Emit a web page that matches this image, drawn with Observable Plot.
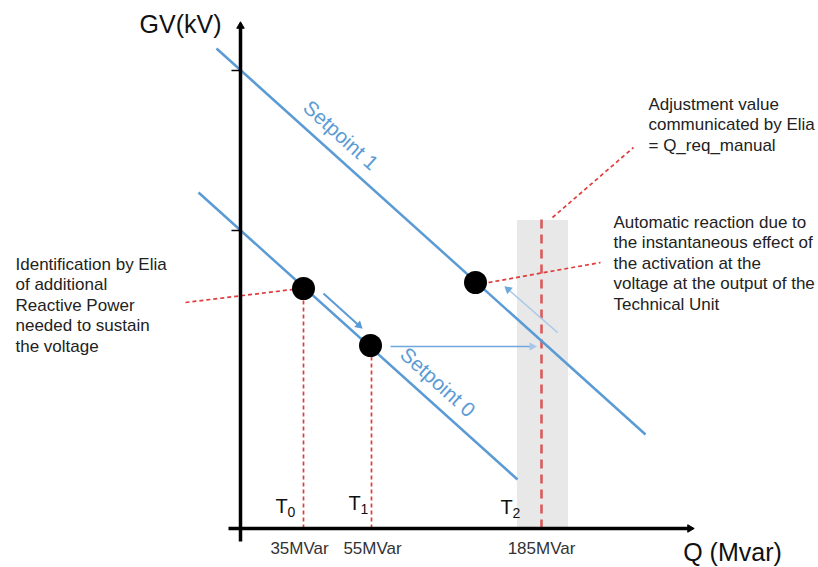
<!DOCTYPE html>
<html><head><meta charset="utf-8">
<script src="https://cdn.jsdelivr.net/npm/d3@7"></script>
<script src="https://cdn.jsdelivr.net/npm/@observablehq/plot@0.6"></script>
<style>body{margin:0;background:#fff} #chart svg{display:block}</style>
</head><body><div id="chart"></div>
<script>
// Schematic diagram units: q = position along the Q axis, v = position along the GV axis
// (origin at the crossing of the two axes).

// Setpoint characteristic lines
const setpointNames = ["Setpoint 0", "Setpoint 1"];
const setpointQStart = [-42, -24];
const setpointVStart = [336, 480];
const setpointQEnd = [277, 405];
const setpointVEnd = [49, 94];
const setpointLabelQ = [197, 100];
const setpointLabelV = [146, 393];

// Operating points (T0, T1, T2)
const pointNames = ["T0", "T1", "T2"];
const pointQ = [63, 130, 235];
const pointV = [240, 183, 246];

// Q axis tick labels
const qTickLabels = ["35MVar", "55MVar", "185MVar"];
const qTickQ = [59, 132, 301];

// Time labels
const timeSubs = ["0", "1", "2"];
const timeQ = [41, 114, 266];
const timeV = [22, 25, 21];

// GV axis tick marks
const vTicks = [458, 298];

// Requested Q band (Q_req_manual)
const bandQ = [277, 328];
const bandV = [0, 308];
const reqQ = 301;
const reqVTop = 315;

// Red dashed leader / drop lines
const leaderQ1 = [-55, 63, 131, 248, 312];
const leaderV1 = [226, 0, 0, 246, 311];
const leaderQ2 = [52, 63, 131, 360, 393];
const leaderV2 = [239, 230, 173, 266, 381];

// Blue arrows
const arrowQ1 = [83, 150, 317];
const arrowV1 = [235, 182, 196];
const arrowQ2 = [124, 299, 262];
const arrowV2 = [198, 182, 244];
const arrowShaft = ["#5b9bd5", "#6fa8dc", "#a9c9ea"];
const arrowHead = ["#5b9bd5", "#a9c7e8", "#6fa8dc"];
const arrowWidth = [2, 1.3, 1.6];

// Axes
const axisQ = [[-12, 0], [455, 0]];
const axisV = [[0, -13], [0, 508]];

// Annotations
const annoText = [
  "Identification by Elia\nof additional\nReactive Power\nneeded to sustain\nthe voltage",
  "Adjustment value\ncommunicated by Elia\n= Q_req_manual",
  "Automatic reaction due to\nthe instantaneous effect of\nthe activation at the\nvoltage at the output of the\nTechnical Unit"
];
const annoQ = [-225, 408, 373];
const annoV = [273, 433, 315];

const font = "Liberation Sans, Arial, sans-serif";
const idx = n => d3.range(n);

// arrow heads (triangles) computed from arrow geometry
function heads(q1, v1, q2, v2, r) {
  return q1.map((_, i) => {
    const dq = q2[i] - q1[i], dv = v2[i] - v1[i];
    const len = Math.hypot(dq, dv);
    const back = 1.555 * r[i];
    return {q: q2[i] - dq / len * back, v: v2[i] - dv / len * back,
            rot: Math.atan2(dq, dv) * 180 / Math.PI, r: r[i], i};
  });
}
const blueHeads = heads(arrowQ1, arrowV1, arrowQ2, arrowV2, [4.8, 4.8, 4.8]);
const axisHeads = heads([axisQ[0][0], axisV[0][0]], [axisQ[0][1], axisV[0][1]],
                        [axisQ[1][0], axisV[1][0]], [axisQ[1][1], axisV[1][1]], [3.6, 3.6]);
// shorten shafts so they end inside the head
function shaft(q1, v1, q2, v2, cut) {
  return q1.map((_, i) => {
    const dq = q2[i] - q1[i], dv = v2[i] - v1[i];
    const len = Math.hypot(dq, dv);
    return {q1: q1[i], v1: v1[i], q2: q2[i] - dq / len * cut, v2: v2[i] - dv / len * cut, i};
  });
}
const blueShafts = shaft(arrowQ1, arrowV1, arrowQ2, arrowV2, 6);
const axisShafts = shaft([axisQ[0][0], axisV[0][0]], [axisQ[0][1], axisV[0][1]],
                         [axisQ[1][0], axisV[1][0]], [axisQ[1][1], axisV[1][1]], 6);

const chart = Plot.plot({
  width: 818, height: 567,
  margin: 0,
  x: {domain: [-240, 578], range: [0, 818], axis: null},
  y: {domain: [-39, 528], range: [567, 0], axis: null},
  style: {background: "#fff", fontFamily: font},
  marks: [
    Plot.rect([0], {x1: bandQ[0], x2: bandQ[1], y1: bandV[0], y2: bandV[1], fill: "#e8e8e8"}),
    Plot.link([0], {x1: reqQ, x2: reqQ, y1: 0, y2: reqVTop, stroke: "#d95b5b", strokeWidth: 2.6, strokeDasharray: "9,6"}),
    Plot.link(idx(leaderQ1.length), {x1: i => leaderQ1[i], y1: i => leaderV1[i], x2: i => leaderQ2[i], y2: i => leaderV2[i],
      stroke: "#e03c3c", strokeWidth: 1.7, strokeDasharray: "4,3"}),
    Plot.link(idx(setpointNames.length), {x1: i => setpointQStart[i], y1: i => setpointVStart[i], x2: i => setpointQEnd[i], y2: i => setpointVEnd[i],
      stroke: "#5b9bd5", strokeWidth: 2.5}),
    Plot.text(idx(setpointNames.length), {x: i => setpointLabelQ[i], y: i => setpointLabelV[i], text: i => setpointNames[i],
      rotate: 42, fill: "#5b9bd5", fontSize: 20.5, textAnchor: "middle", lineAnchor: "middle"}),
    // axes
    Plot.link(axisShafts, {x1: "q1", y1: "v1", x2: "q2", y2: "v2", stroke: "#000", strokeWidth: 3.5}),
    Plot.dot(axisHeads, {x: "q", y: "v", r: "r", rotate: "rot", symbol: "triangle", fill: "#000", stroke: "#000", strokeWidth: 1}),
    Plot.link(vTicks, {x1: -9, x2: 0, y1: d => d, y2: d => d, stroke: "#000", strokeWidth: 1.5}),
    // blue arrows
    Plot.link(blueShafts, {x1: "q1", y1: "v1", x2: "q2", y2: "v2", stroke: d => arrowShaft[d.i], strokeWidth: d => arrowWidth[d.i]}),
    Plot.dot(blueHeads, {x: "q", y: "v", r: "r", rotate: "rot", symbol: "triangle", fill: d => arrowHead[d.i], stroke: "none"}),
    // operating points
    Plot.dot(idx(pointNames.length), {x: i => pointQ[i], y: i => pointV[i], r: 11.5, fill: "#000"}),
    // axis titles
    Plot.text(["GV(kV)"], {x: -60, y: 504, text: d => d, fontSize: 25, fill: "#111", textAnchor: "middle", lineAnchor: "middle"}),
    Plot.text(["Q (Mvar)"], {x: 492, y: -24, text: d => d, fontSize: 25, fill: "#111", textAnchor: "middle", lineAnchor: "middle"}),
    // tick labels
    Plot.text(idx(qTickLabels.length), {x: i => qTickQ[i], y: -20, text: i => qTickLabels[i], fontSize: 17, fill: "#333", textAnchor: "middle", lineAnchor: "middle"}),
    // time labels
    Plot.text(idx(timeSubs.length), {x: i => timeQ[i], y: i => timeV[i], text: () => "T", fontSize: 20, fill: "#111", textAnchor: "middle", lineAnchor: "middle"}),
    Plot.text(idx(timeSubs.length), {x: i => timeQ[i] + 10, y: i => timeV[i] - 6, text: i => timeSubs[i], fontSize: 14, fill: "#111", textAnchor: "middle", lineAnchor: "middle"}),
    // annotations
    Plot.text(idx(annoText.length), {x: i => annoQ[i], y: i => annoV[i], text: i => annoText[i], fontSize: 17, lineHeight: 1.2,
      fill: "#222", textAnchor: "start", lineAnchor: "top"})
  ]
});
document.getElementById("chart").appendChild(chart);
</script>
</body></html>
